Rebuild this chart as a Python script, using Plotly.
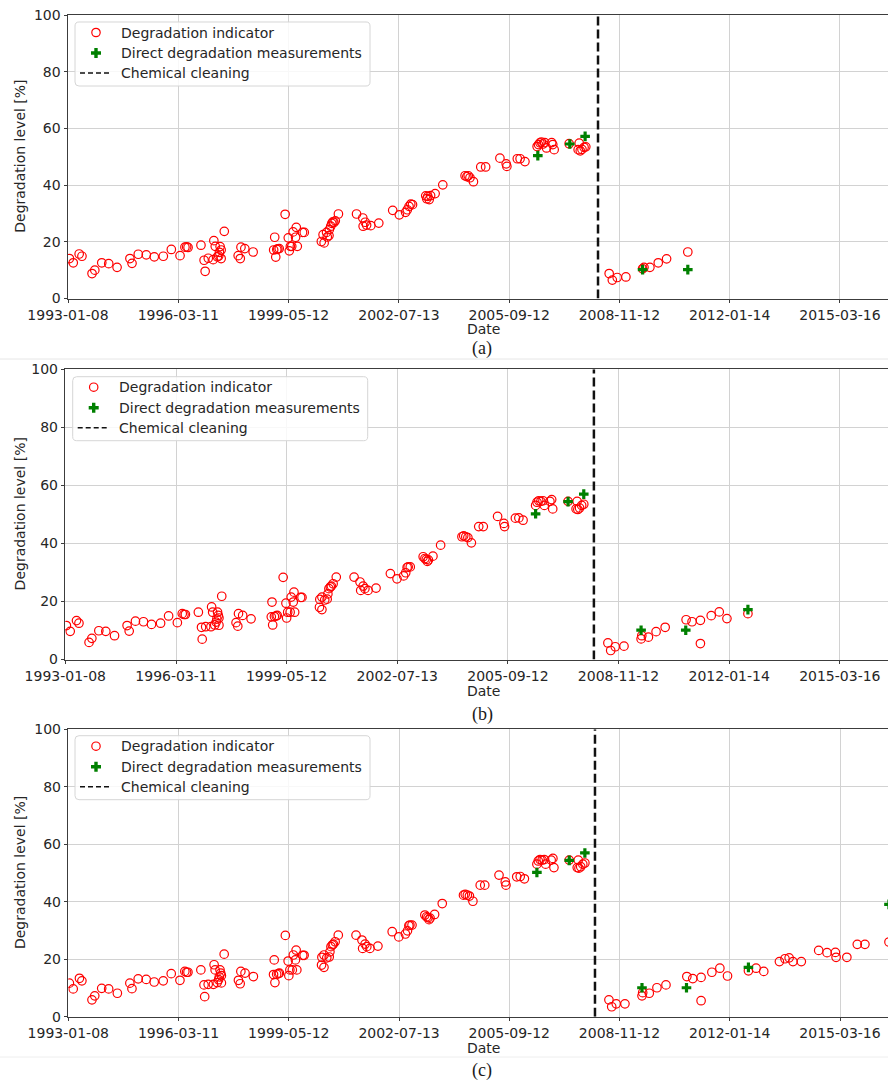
import pandas as pd
import plotly.graph_objects as go

W, H = 888, 1083

# ---------------------------------------------------------------------------
# Data (dates as decimal years, degradation level in %)
# ---------------------------------------------------------------------------
tick_labels = ["1993-01-08", "1996-03-11", "1999-05-12", "2002-07-13",
               "2005-09-12", "2008-11-12", "2012-01-14", "2015-03-16"]
y_ticks = [0, 20, 40, 60, 80, 100]
legend_labels = ["Degradation indicator", "Direct degradation measurements",
                 "Chemical cleaning"]

# Panel (a)
ind_a_year = [
    1993.06, 1993.17, 1993.34, 1993.42, 1993.71, 1993.79, 1993.99, 1994.19, 1994.43, 1994.80,
    1994.86, 1995.04, 1995.27, 1995.50, 1995.76, 1995.99, 1996.24, 1996.38, 1996.43, 1996.47,
    1996.84, 1996.93, 1996.96, 1997.05, 1997.19, 1997.21, 1997.25, 1997.31, 1997.35, 1997.37,
    1997.39, 1997.42, 1997.42, 1997.51, 1997.91, 1997.97, 1997.99, 1998.10, 1998.34, 1998.93,
    1998.96, 1998.99, 1999.02, 1999.05, 1999.09, 1999.26, 1999.35, 1999.38, 1999.41, 1999.45,
    1999.49, 1999.56, 1999.58, 1999.61, 1999.76, 1999.81, 2000.30, 2000.35, 2000.38, 2000.45,
    2000.47, 2000.52, 2000.53, 2000.57, 2000.60, 2000.63, 2000.66, 2000.70, 2000.79, 2001.31,
    2001.49, 2001.50, 2001.56, 2001.60, 2001.72, 2001.95, 2002.35, 2002.54, 2002.72, 2002.77,
    2002.82, 2002.87, 2002.92, 2003.30, 2003.33, 2003.36, 2003.40, 2003.44, 2003.57, 2003.79,
    2004.43, 2004.48, 2004.52, 2004.57, 2004.67, 2004.88, 2005.02, 2005.43, 2005.61, 2005.63,
    2005.93, 2006.01, 2006.15, 2006.50, 2006.54, 2006.58, 2006.62, 2006.67, 2006.72, 2006.77,
    2006.92, 2006.95, 2006.99, 2007.42, 2007.71, 2007.68, 2007.74, 2007.79, 2007.85, 2007.90,
    2008.57, 2008.66, 2008.80, 2009.05, 2009.53, 2009.57, 2009.74, 2009.98, 2010.22, 2010.83,
]
ind_a_val = [
    14.1, 12.6, 15.7, 14.9, 8.8, 10.0, 12.6, 12.3, 11.0, 14.1,
    12.4, 15.6, 15.4, 14.7, 14.9, 17.3, 15.1, 18.1, 18.2, 18.0,
    18.8, 13.5, 9.6, 14.2, 13.7, 20.4, 18.4, 14.7, 15.0, 16.3,
    18.3, 17.1, 14.1, 23.7, 15.1, 14.1, 18.1, 17.6, 16.4, 17.1,
    21.6, 14.6, 17.3, 17.5, 17.6, 29.7, 21.4, 16.8, 18.4, 18.4,
    23.5, 21.6, 25.1, 18.4, 23.3, 23.3, 20.1, 22.5, 19.6, 23.3,
    21.7, 22.2, 24.3, 25.5, 26.5, 27.0, 26.8, 27.4, 29.8, 29.8,
    28.4, 25.5, 26.9, 25.9, 25.7, 26.6, 31.1, 29.5, 30.4, 31.3,
    32.5, 33.3, 33.1, 36.2, 35.2, 36.0, 34.9, 36.3, 37.0, 40.1,
    43.3, 43.0, 43.3, 42.6, 41.2, 46.4, 46.4, 49.5, 47.5, 46.6,
    49.3, 49.3, 48.3, 53.6, 54.3, 54.9, 55.2, 54.5, 55.0, 53.1,
    55.0, 54.3, 52.5, 54.6, 54.8, 52.5, 52.1, 52.6, 53.3, 53.5,
    8.8, 6.5, 7.4, 7.6, 10.5, 11.0, 11.0, 12.6, 14.0, 16.4,
]
meas_a_year = [2006.52, 2007.44, 2007.88, 2009.53, 2010.83]
meas_a_val = [50.4, 54.5, 57.2, 10.2, 10.2]
cleaning_a = 2008.25

# Panels (b) and (c): identical history before the cleaning
pre_bc_year = [
    1993.05, 1993.16, 1993.34, 1993.41, 1993.70, 1993.78, 1993.98, 1994.18, 1994.43, 1994.79,
    1994.85, 1995.03, 1995.26, 1995.49, 1995.75, 1995.98, 1996.23, 1996.37, 1996.42, 1996.46,
    1996.83, 1996.92, 1996.94, 1997.04, 1997.19, 1997.21, 1997.24, 1997.30, 1997.34, 1997.36,
    1997.38, 1997.40, 1997.42, 1997.42, 1997.50, 1997.91, 1997.96, 1997.98, 1998.10, 1998.34,
    1998.92, 1998.94, 1998.96, 1999.01, 1999.06, 1999.09, 1999.26, 1999.34, 1999.36, 1999.39,
    1999.46, 1999.49, 1999.55, 1999.57, 1999.59, 1999.76, 1999.80, 2000.30, 2000.31, 2000.37,
    2000.37, 2000.45, 2000.52, 2000.54, 2000.57, 2000.61, 2000.64, 2000.69, 2000.78, 2001.29,
    2001.46, 2001.48, 2001.55, 2001.60, 2001.69, 2001.92, 2002.33, 2002.52, 2002.71, 2002.77,
    2002.81, 2002.84, 2002.90, 2003.27, 2003.32, 2003.36, 2003.39, 2003.42, 2003.55, 2003.77,
    2004.38, 2004.43, 2004.49, 2004.55, 2004.65, 2004.86, 2004.99, 2005.40, 2005.58, 2005.60,
    2005.91, 2006.01, 2006.13, 2006.49, 2006.53, 2006.58, 2006.64, 2006.70, 2006.74, 2006.90,
    2006.95, 2006.98, 2007.42, 2007.68, 2007.65, 2007.70, 2007.75, 2007.81, 2007.87,
]
pre_bc_val = [
    11.7, 9.7, 13.4, 12.5, 5.9, 7.3, 9.9, 9.7, 8.2, 11.7,
    9.8, 13.2, 13.0, 12.1, 12.5, 15.0, 12.7, 15.8, 15.5, 15.5,
    16.3, 11.1, 7.0, 11.3, 11.3, 18.1, 16.3, 11.9, 12.9, 13.9,
    16.3, 15.2, 14.3, 11.8, 21.8, 12.7, 11.5, 15.8, 15.2, 14.0,
    14.7, 19.8, 11.9, 14.8, 15.0, 15.2, 28.3, 19.4, 14.3, 16.3,
    16.3, 21.5, 19.8, 23.2, 16.3, 21.4, 21.4, 18.0, 20.7, 17.2,
    21.5, 20.5, 20.8, 22.6, 24.4, 25.0, 25.3, 26.1, 28.4, 28.4,
    26.7, 23.8, 25.3, 24.4, 23.8, 24.6, 29.6, 27.8, 28.8, 29.9,
    31.7, 31.9, 31.9, 35.4, 34.8, 34.5, 33.8, 34.3, 35.6, 39.4,
    42.3, 42.6, 42.3, 42.0, 40.2, 45.8, 45.8, 49.3, 46.9, 45.8,
    48.7, 48.8, 48.0, 53.1, 54.2, 54.7, 54.5, 54.7, 53.1, 54.5,
    55.1, 51.9, 54.5, 54.5, 51.9, 51.7, 52.2, 53.1, 53.5,
]
cleaning_bc = 2008.16

post_b_year = [2008.56, 2008.64, 2008.77, 2009.02, 2009.51, 2009.53, 2009.72, 2009.94, 2010.20,
               2010.80, 2010.97, 2011.21, 2011.21, 2011.52, 2011.75, 2011.97, 2012.57]
post_b_val = [5.7, 3.1, 4.4, 4.6, 7.1, 8.2, 7.7, 9.6, 11.1,
              13.7, 13.0, 13.5, 5.5, 15.1, 16.4, 14.1, 15.8]
meas_b_year = [2006.49, 2007.42, 2007.87, 2009.51, 2010.79, 2012.57]
meas_b_val = [50.2, 54.4, 57.0, 10.1, 10.1, 17.2]

post_c_year = [2008.56, 2008.64, 2008.77, 2009.02, 2009.51, 2009.53, 2009.72, 2009.94, 2010.20,
               2010.80, 2010.97, 2011.21, 2011.21, 2011.52, 2011.75, 2011.97, 2012.57, 2012.79,
               2013.01, 2013.46, 2013.62, 2013.74, 2013.85, 2014.09, 2014.59, 2014.83, 2015.07,
               2015.09, 2015.40, 2015.70, 2015.92, 2016.61]
post_c_val = [5.9, 3.5, 4.5, 4.5, 7.3, 8.4, 8.2, 10.1, 11.1,
              14.0, 13.3, 13.7, 5.6, 15.5, 16.9, 14.2, 16.0, 16.9,
              15.8, 19.2, 20.2, 20.5, 19.2, 19.2, 23.1, 22.3, 22.4,
              20.7, 20.7, 25.2, 25.2, 26.0]
meas_c_year = [2006.49, 2007.42, 2007.87, 2009.51, 2010.79, 2012.57, 2016.61]
meas_c_val = [50.2, 54.4, 57.0, 10.1, 10.1, 17.2, 39.1]


def to_date(y):
    """Convert a decimal year to a timestamp."""
    yr = int(y)
    start = pd.Timestamp(yr, 1, 1)
    end = pd.Timestamp(yr + 1, 1, 1)
    return start + (end - start) * (y - yr)


def dates(years):
    return [to_date(v) for v in years]


# ---------------------------------------------------------------------------
# Layout helpers (pixel positions -> paper coordinates)
# ---------------------------------------------------------------------------
def px(p):
    return p / W


def py(p):
    return 1 - p / H


FONT = "DejaVu Sans"
TEXT = "#262626"
SPINE = "#3c3c3c"
GRID = "#d2d2d2"
RED = "#ff0000"
GREEN = "#008000"

panels = [
    dict(ind_year=ind_a_year, ind_val=ind_a_val,
         meas_year=meas_a_year, meas_val=meas_a_val, cleaning=cleaning_a,
         left=68.0, top=15.0, bottom=298.5, legend=(75, 22),
         date_y=329, cap_y=348, caption="(a)"),
    dict(ind_year=pre_bc_year + post_b_year, ind_val=pre_bc_val + post_b_val,
         meas_year=meas_b_year, meas_val=meas_b_val, cleaning=cleaning_bc,
         left=65.3, top=369.3, bottom=659.5, legend=(72.7, 376.7),
         date_y=691, cap_y=714, caption="(b)"),
    dict(ind_year=pre_bc_year + post_c_year, ind_val=pre_bc_val + post_c_val,
         meas_year=meas_c_year, meas_val=meas_c_val, cleaning=cleaning_bc,
         left=68.3, top=729.3, bottom=1016.8, legend=(75, 735.7),
         date_y=1048, cap_y=1070, caption="(c)"),
]

x_start = "1993-01-08"
x_end = "2016-08-01"


def rounded_box(x0, y0, x1, y1, r):
    """SVG path (paper coords) for a rounded rectangle given in pixels."""
    pts = [
        ("M", [(x0 + r, y0)]), ("L", [(x1 - r, y0)]), ("Q", [(x1, y0), (x1, y0 + r)]),
        ("L", [(x1, y1 - r)]), ("Q", [(x1, y1), (x1 - r, y1)]),
        ("L", [(x0 + r, y1)]), ("Q", [(x0, y1), (x0, y1 - r)]),
        ("L", [(x0, y0 + r)]), ("Q", [(x0, y0), (x0 + r, y0)]),
    ]
    out = []
    for cmd, coords in pts:
        out.append(cmd + " ".join(f"{px(a):.5f},{py(b):.5f}" for a, b in coords))
    return " ".join(out) + " Z"


def plus_path(cx, cy, a, t):
    """Filled plus sign centred on (cx, cy) in pixels."""
    poly = [(cx - t, cy - a), (cx + t, cy - a), (cx + t, cy - t), (cx + a, cy - t),
            (cx + a, cy + t), (cx + t, cy + t), (cx + t, cy + a), (cx - t, cy + a),
            (cx - t, cy + t), (cx - a, cy + t), (cx - a, cy - t), (cx - t, cy - t)]
    return "M" + " L".join(f"{px(a_):.5f},{py(b_):.5f}" for a_, b_ in poly) + " Z"


fig = go.Figure()
annotations = []
shapes = []
layout = {}

for i, p in enumerate(panels, start=1):
    sfx = "" if i == 1 else str(i)
    xa, ya = "x" + sfx, "y" + sfx

    fig.add_trace(go.Scatter(
        x=dates(p["ind_year"]), y=p["ind_val"], mode="markers",
        name=legend_labels[0],
        marker=dict(symbol="circle-open", size=8.5, color=RED,
                    line=dict(width=1.2, color=RED)),
        xaxis=xa, yaxis=ya, showlegend=False,
    ))
    fig.add_trace(go.Scatter(
        x=dates(p["meas_year"]), y=p["meas_val"], mode="markers",
        name=legend_labels[1],
        marker=dict(symbol="cross", size=8, color=GREEN, line=dict(width=0)),
        xaxis=xa, yaxis=ya, showlegend=False,
    ))
    clean_date = to_date(p["cleaning"])
    fig.add_trace(go.Scatter(
        x=[clean_date, clean_date], y=[0, 100], mode="lines",
        name=legend_labels[2],
        line=dict(color="#111111", width=2.5, dash="9px,4px"),
        xaxis=xa, yaxis=ya, showlegend=False,
    ))

    layout["xaxis" + sfx] = dict(
        type="date", range=[x_start, x_end],
        domain=[px(p["left"]), 1.0], anchor=ya,
        tickvals=tick_labels, ticktext=tick_labels,
        tickfont=dict(family=FONT, size=14, color=TEXT),
        ticks="outside", ticklen=3.5, tickwidth=1, tickcolor=SPINE,
        showline=True, linecolor=SPINE, linewidth=1, mirror=True,
        showgrid=True, gridcolor=GRID, gridwidth=1,
        zeroline=False, automargin=False,
    )
    layout["yaxis" + sfx] = dict(
        range=[0, 100], domain=[py(p["bottom"]), py(p["top"])], anchor=xa,
        tickvals=y_ticks, ticktext=[str(v) for v in y_ticks],
        tickfont=dict(family=FONT, size=14, color=TEXT),
        ticks="outside", ticklen=3.5, tickwidth=1, tickcolor=SPINE,
        showline=True, linecolor=SPINE, linewidth=1, mirror=False,
        showgrid=True, gridcolor=GRID, gridwidth=1,
        zeroline=False, automargin=False,
    )

    # legend box in the upper-left corner of each panel
    lx, ly = p["legend"]
    shapes.append(dict(
        type="path", xref="paper", yref="paper",
        path=rounded_box(lx, ly, lx + 295, ly + 64, 4),
        fillcolor="rgba(255,255,255,0.85)", line=dict(color="#d6d6d6", width=1),
        layer="above",
    ))
    rows = [ly + 10.5, ly + 31, ly + 51]
    shapes.append(dict(
        type="circle", xref="paper", yref="paper",
        x0=px(lx + 21 - 4.2), x1=px(lx + 21 + 4.2),
        y0=py(rows[0] + 4.2), y1=py(rows[0] - 4.2),
        line=dict(color=RED, width=1.2), fillcolor="rgba(0,0,0,0)", layer="above",
    ))
    shapes.append(dict(
        type="path", xref="paper", yref="paper",
        path=plus_path(lx + 21, rows[1], 5, 1.7),
        fillcolor=GREEN, line=dict(width=0), layer="above",
    ))
    shapes.append(dict(
        type="line", xref="paper", yref="paper",
        x0=px(lx + 5), x1=px(lx + 35), y0=py(rows[2]), y1=py(rows[2]),
        line=dict(color="#111111", width=1.6, dash="5px,3px"), layer="above",
    ))
    for label, ry in zip(legend_labels, rows):
        annotations.append(dict(
            text=label, xref="paper", yref="paper",
            x=px(lx + 44), y=py(ry), showarrow=False,
            xanchor="left", yanchor="middle",
            font=dict(family=FONT, size=14, color=TEXT),
        ))

    mid = (p["top"] + p["bottom"]) / 2
    annotations.append(dict(
        text="Degradation level [%]", xref="paper", yref="paper",
        x=px(20), y=py(mid), textangle=-90, showarrow=False,
        xanchor="center", yanchor="middle",
        font=dict(family=FONT, size=14, color=TEXT),
    ))
    annotations.append(dict(
        text="Date", xref="paper", yref="paper",
        x=px(483), y=py(p["date_y"]), showarrow=False,
        xanchor="center", yanchor="middle",
        font=dict(family=FONT, size=14, color=TEXT),
    ))
    annotations.append(dict(
        text=p["caption"], xref="paper", yref="paper",
        x=px(482), y=py(p["cap_y"]), showarrow=False,
        xanchor="center", yanchor="middle",
        font=dict(family="Liberation Serif", size=18, color="#1a1a1a"),
    ))

# faint separators between the stacked figures
shapes += [
    dict(type="line", xref="paper", yref="paper", x0=0, x1=1,
         y0=py(359), y1=py(359), line=dict(color="#e6e6e6", width=1)),
    dict(type="line", xref="paper", yref="paper", x0=0, x1=1,
         y0=py(1057), y1=py(1057), line=dict(color="#eeeeee", width=1)),
]

fig.update_layout(
    width=W, height=H,
    margin=dict(l=0, r=0, t=0, b=0),
    paper_bgcolor="white", plot_bgcolor="white",
    template="none",
    showlegend=False,
    annotations=annotations,
    shapes=shapes,
    **layout,
)

fig.write_html("out.html")
